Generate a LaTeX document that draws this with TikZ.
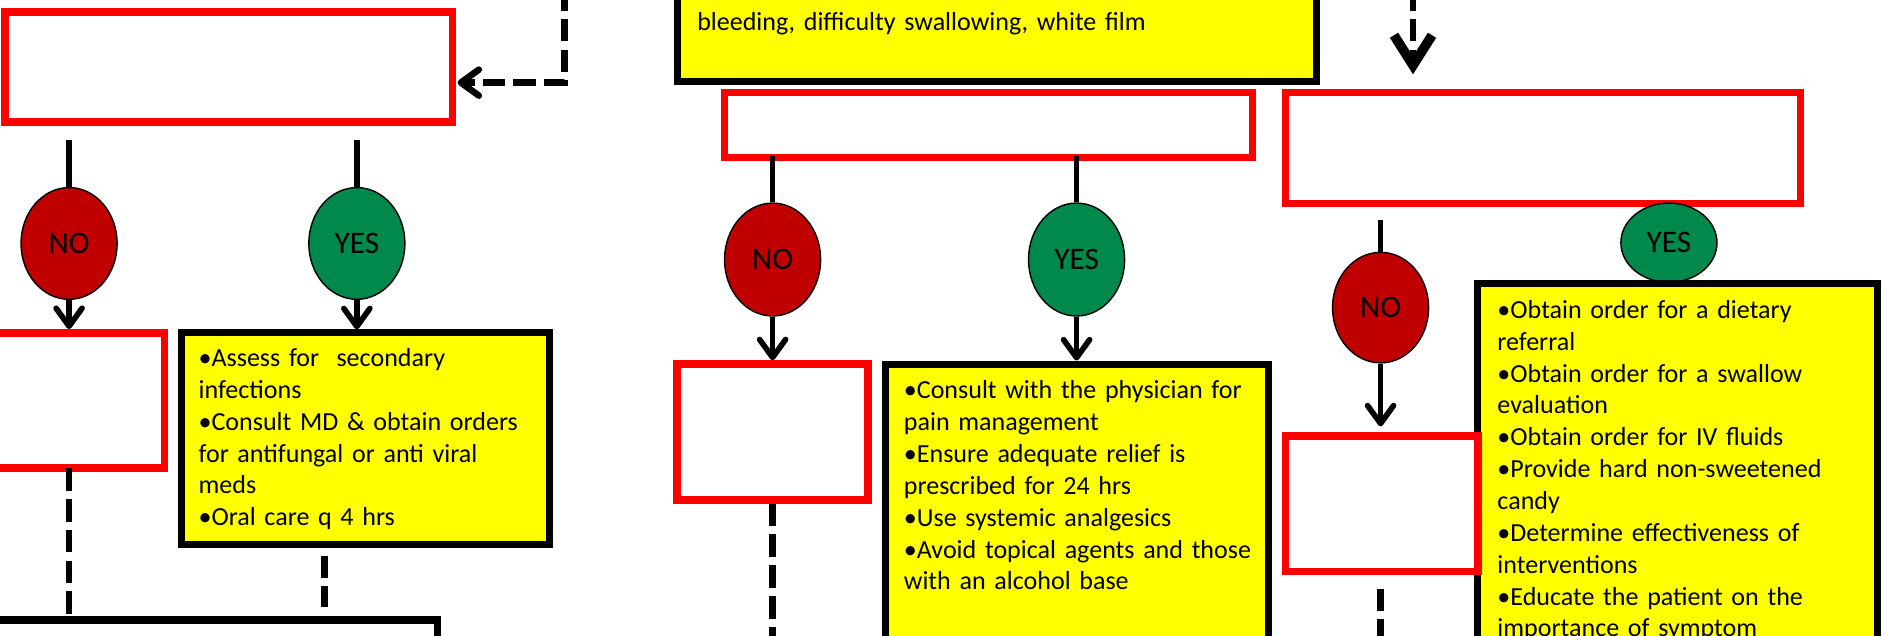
\documentclass[tikz,border=0pt]{standalone}
\usepackage{fontspec}
\setmainfont{Carlito}
\usetikzlibrary{arrows.meta,shapes.geometric,fit,calc}
\definecolor{boxred}{RGB}{255,0,0}
\definecolor{noteyellow}{RGB}{255,255,0}
\definecolor{nofill}{RGB}{192,0,0}
\definecolor{yesfill}{RGB}{0,137,75}
\begin{document}
\begin{tikzpicture}[x=0.024cm,y=-0.024cm,
  redbox/.style={draw=boxred,line width=4.3pt,fill=white,inner sep=0pt},
  notebox/.style={draw=black,line width=4pt,fill=noteyellow,inner sep=0pt},
  blankbox/.style={draw=black,line width=4pt,fill=white,inner sep=0pt},
  choice/.style={ellipse,draw=black,line width=0.8pt,inner sep=0pt,minimum width=1.92cm,
    font=\fontsize{17.8}{20}\selectfont},
  nochoice/.style={choice,fill=nofill},
  yeschoice/.style={choice,fill=yesfill},
  notetext/.style={anchor=base west,inner sep=0pt,text width=14cm,align=left,
    font=\fontsize{14.8}{18.1}\selectfont},
  conn/.style={draw=black,line width=3.2pt},
  flowdash/.style={draw=black,line width=3.7pt,dash pattern=on 12.9pt off 4.6pt},
  vtip/.style={-{Straight Barb[length=3.6mm,width=5.2mm,round]}},
  vtipbig/.style={-{Straight Barb[length=6mm,width=7.6mm,line width=5.5pt]}}]

\useasboundingbox (0,0) rectangle (1568,529);
\clip (0,0) rectangle (1568,529);
\fill[white] (0,0) rectangle (1568,529);

% ---------- left branch ----------
\node[redbox,fit={(4,10) (376.7,101.5)}] (r1) {};
\node[nochoice,minimum height=2.232cm] (noA) at (57.5,202.6) {NO};
\node[yeschoice,minimum height=2.232cm] (yesA) at (297,202.6) {\raisebox{-3pt}{YES}};
\node[redbox,fit={(-20,277) (137,389.5)}] (r2) {};
\node[notebox,fit={(151,277) (457,453.5)}] (y1) {};
\node[notetext] (t1) at (165,305) {•Assess for \ secondary\\infections\\•Consult MD \& obtain orders\\for antifungal or anti viral\\meds\\•Oral care q 4 hrs};
\node[blankbox,fit={(-20,516) (364,580)}] (b1) {};

\coordinate (loopL) at (470,-10);
\draw[flowdash,vtip] (loopL) |- ($(r1.east)+(1,13)$);
\draw[conn] ($(r1.south -| noA.north)+(0,12)$) -- (noA.north);
\draw[conn] ($(r1.south -| yesA.north)+(0,12)$) -- (yesA.north);
\draw[conn,vtip] (noA.south) -- (r2.north -| noA.south);
\draw[conn,vtip] (yesA.south) -- (y1.north -| yesA.south);
\draw[flowdash] ($(r2.south -| noA.south)+(0,-3)$) -- (b1.north -| noA.south);
\draw[flowdash] ($(y1.south)+(-34,6)$) -- ($(b1.north -| y1.south)+(-34,-8)$);

% ---------- middle branch ----------
\node[notebox,fit={(564,-30) (1095.5,68)}] (y0) {};
\node[notetext] (t0) at (580,25) {bleeding, difficulty swallowing, white film};
\node[redbox,fit={(603,77) (1042.5,131)}] (r3) {};
\node[nochoice,minimum height=2.256cm] (noB) at (643,216) {\raisebox{-2pt}{NO}};
\node[yeschoice,minimum height=2.256cm] (yesB) at (896,216) {\raisebox{-2pt}{YES}};
\node[redbox,fit={(563.5,303) (722.5,416)}] (r4) {};
\node[notebox,fit={(737,303) (1056,580)}] (y2) {};
\node[notetext] (t2) at (752,332) {•Consult with the physician for\\pain management\\•Ensure adequate relief is\\prescribed for 24 hrs\\•Use systemic analgesics\\•Avoid topical agents and those\\with an alcohol base};

\coordinate (endB) at (643,545);
\draw[conn] ($(r3.south -| noB.north)+(0,-4)$) -- (noB.north);
\draw[conn] ($(r3.south -| yesB.north)+(0,-4)$) -- (yesB.north);
\draw[conn,vtip] (noB.south) -- (r4.north -| noB.south);
\draw[conn,vtip] (yesB.south) -- (y2.north -| yesB.south);
\draw[flowdash] (r4.south -| endB) -- (endB);

% ---------- right branch ----------
\node[redbox,fit={(1070,77) (1498.5,169.5)}] (r5) {};
\node[yeschoice,minimum height=1.584cm] (yesC) at (1389,202) {\raisebox{-4pt}{YES}};
\node[notebox,fit={(1230,236) (1562.5,580)}] (y3) {};
\node[notetext] (t3) at (1246,265) {•Obtain order for a dietary\\referral\\•Obtain order for a swallow\\evaluation\\•Obtain order for IV fluids\\•Provide hard non-sweetened\\candy\\•Determine effectiveness of\\interventions\\•Educate the patient on the\\importance of symptom};
\node[nochoice,minimum height=2.208cm] (noC) at (1149,256) {NO};
\node[redbox,fit={(1070,363) (1230,475.7)}] (r6) {};

\coordinate (topR) at (1176,-10);
\coordinate (endC) at (1149,545);
\draw[flowdash,vtipbig] (topR) -- ($(r5.north -| topR)+(0,-12)$);
\draw[conn] ($(r5.south -| noC.north)+(0,10.5)$) -- (noC.north);
\draw[conn,vtip] (noC.south) -- ($(r6.north -| noC.south)+(0,-5)$);
\draw[flowdash] ($(r6.south -| endC)+(0,11)$) -- (endC);

\end{tikzpicture}
\end{document}
